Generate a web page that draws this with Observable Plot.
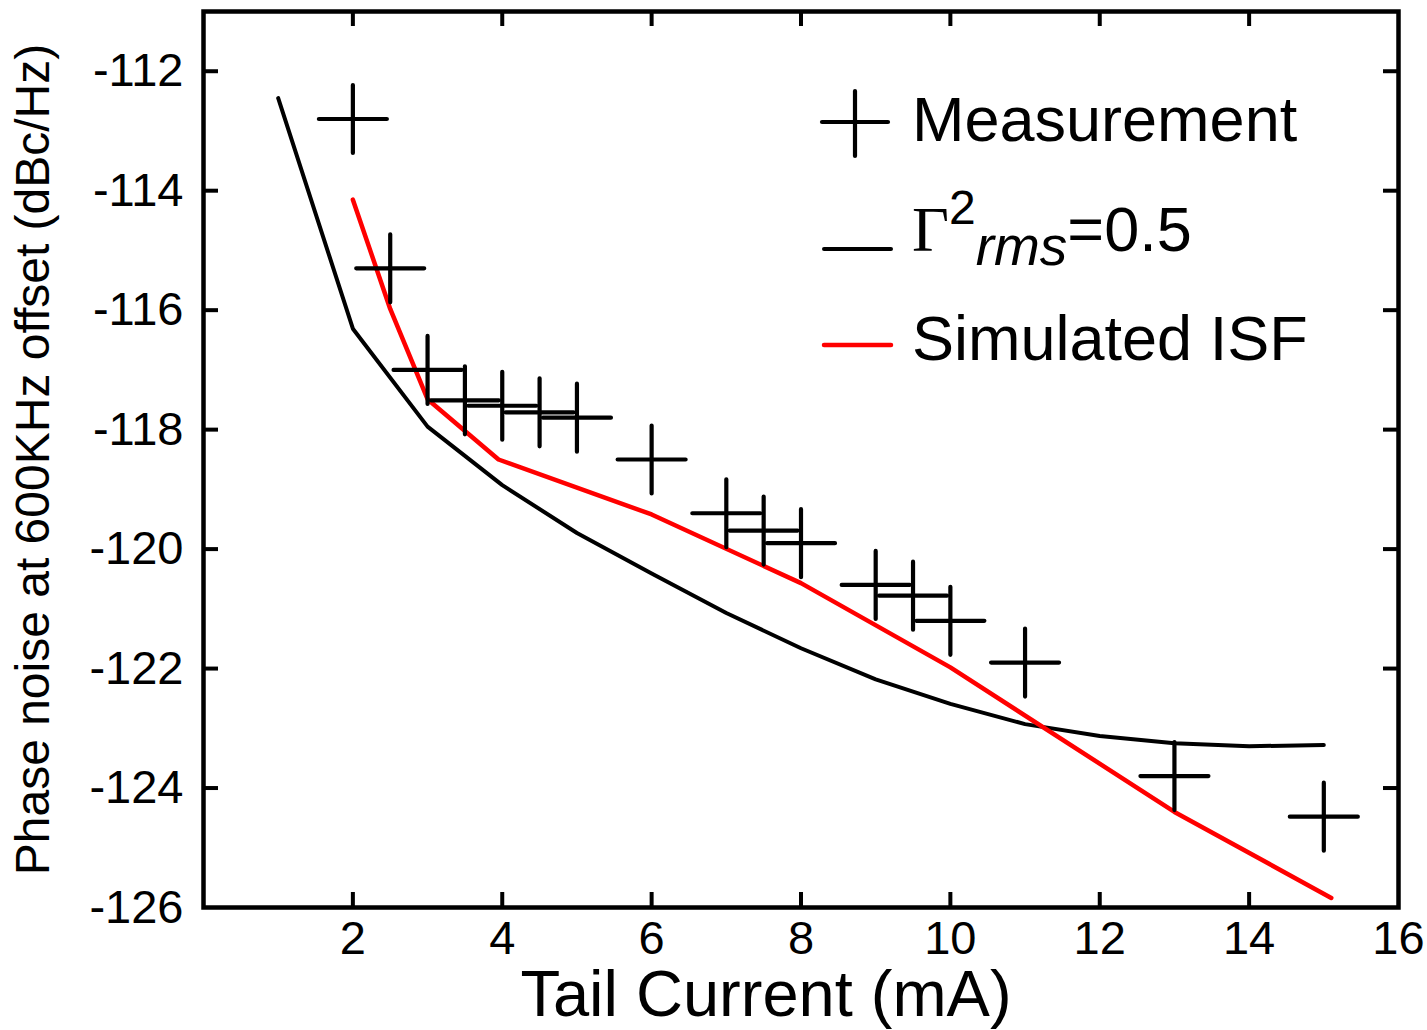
<!DOCTYPE html>
<html>
<head>
<meta charset="utf-8">
<script src="https://cdn.jsdelivr.net/npm/d3@7"></script>
<script src="https://cdn.jsdelivr.net/npm/@observablehq/plot@0.6"></script>
<style>
  html, body { margin: 0; padding: 0; background: #fff; }
  #wrap { position: relative; width: 1427px; height: 1030px; font-family: "Liberation Sans", Arial, sans-serif; }
  .leg { position: absolute; font-size: 63px; line-height: 63px; white-space: nowrap; color: #000; }
  #legsym { position: absolute; left: 0; top: 0; }
</style>
</head>
<body>
<div id="wrap"></div>
<script>
// Measurement (Tail current mA, phase noise dBc/Hz)
const measX = [2, 2.5, 3, 3.5, 4, 4.5, 5, 6, 7, 7.5, 8, 9, 9.5, 10, 11, 13, 15];
const measY = [-112.8, -115.3, -117.0, -117.51, -117.6, -117.71, -117.8, -118.5, -119.4, -119.69, -119.9, -120.6, -120.78, -121.2, -121.9, -123.8, -124.48];

// Gamma^2 rms = 0.5 model
const gammaX = [1, 2, 3, 4, 5, 6, 7, 8, 9, 10, 11, 12, 13, 14, 15];
const gammaY = [-112.45, -116.31, -117.95, -118.93, -119.73, -120.41, -121.07, -121.66, -122.18, -122.59, -122.93, -123.13, -123.25, -123.3, -123.28];

// Simulated ISF
const isfX = [2, 2.5, 3, 3.95, 6, 8, 10, 13, 15.1];
const isfY = [-114.15, -115.98, -117.49, -118.5, -119.42, -120.57, -121.98, -124.4, -125.84];

const xTickLabels = [2, 4, 6, 8, 10, 12, 14, 16];
const yTickLabels = [-112, -114, -116, -118, -120, -122, -124, -126];
const xTickMarks = [2, 4, 6, 8, 10, 12, 14];
const yTickMarks = [-112, -114, -116, -118, -120, -122, -124];

const xTitle = "Tail Current (mA)";
const yTitle = "Phase noise at 600KHz offset (dBc/Hz)";

const meas = measX.map((x, i) => ({x, y: measY[i]}));
const gamma = gammaX.map((x, i) => ({x, y: gammaY[i]}));
const isf = isfX.map((x, i) => ({x, y: isfY[i]}));

const W = 1427, H = 1030;
const mL = 203, mR = 29, mT = 11, mB = 123;
const pw = W - mL - mR, ph = H - mT - mB;
const tickLen = 15;

const plusSymbol = {
  draw(ctx, size) {
    const r = Math.sqrt(size / Math.PI);
    ctx.moveTo(-r, 0); ctx.lineTo(r, 0);
    ctx.moveTo(0, -r); ctx.lineTo(0, r);
  }
};

const font = "Liberation Sans, Arial, sans-serif";

const chart = Plot.plot({
  width: W, height: H,
  marginLeft: mL, marginRight: mR, marginTop: mT, marginBottom: mB,
  style: {fontFamily: font, background: "#fff", color: "#000"},
  x: {domain: [0, 16]},
  y: {domain: [-126, -111]},
  marks: [
    Plot.axisX({ticks: xTickLabels, tickSize: 0, tickPadding: 13, fontSize: 47, label: null, tickFormat: d => String(d)}),
    Plot.axisY({ticks: yTickLabels, tickSize: 0, tickPadding: 20, fontSize: 47, label: null, tickFormat: d => String(d)}),
    // inward ticks (bottom, top, left, right)
    Plot.tickX(xTickMarks, {x: d => d, insetTop: ph - tickLen, stroke: "#000", strokeWidth: 4}),
    Plot.tickX(xTickMarks, {x: d => d, insetBottom: ph - tickLen, stroke: "#000", strokeWidth: 4}),
    Plot.tickY(yTickMarks, {y: d => d, insetRight: pw - tickLen, stroke: "#000", strokeWidth: 4}),
    Plot.tickY(yTickMarks, {y: d => d, insetLeft: pw - tickLen, stroke: "#000", strokeWidth: 4}),
    Plot.line(gamma, {x: "x", y: "y", stroke: "#000", strokeWidth: 4, strokeLinecap: "round", strokeLinejoin: "round"}),
    Plot.line(isf, {x: "x", y: "y", stroke: "#ff0000", strokeWidth: 4.5, strokeLinejoin: "round"}),
    Plot.dot(meas, {x: "x", y: "y", symbol: plusSymbol, r: 34, fill: "none", stroke: "#000", strokeWidth: 4.2, strokeLinecap: "round"}),
    Plot.frame({stroke: "#000", strokeWidth: 4.5}),
    Plot.text([xTitle], {text: d => d, frameAnchor: "bottom", lineAnchor: "bottom", dy: 108, dx: -35, fontSize: 65, fill: "#000"}),
    Plot.text([yTitle], {text: d => d, frameAnchor: "left", textAnchor: "middle", lineAnchor: "middle", dx: -170, rotate: -90, fontSize: 48, fill: "#000"})
  ]
});

const wrap = document.getElementById("wrap");
wrap.appendChild(chart);

// Legend overlay
const ns = "http://www.w3.org/2000/svg";
const lsvg = document.createElementNS(ns, "svg");
lsvg.setAttribute("id", "legsym");
lsvg.setAttribute("width", W);
lsvg.setAttribute("height", H);
function seg(x1, y1, x2, y2, color, w) {
  const l = document.createElementNS(ns, "line");
  l.setAttribute("x1", x1); l.setAttribute("y1", y1);
  l.setAttribute("x2", x2); l.setAttribute("y2", y2);
  l.setAttribute("stroke", color); l.setAttribute("stroke-width", w);
  l.setAttribute("stroke-linecap", "round");
  lsvg.appendChild(l);
}
seg(822, 122, 888, 122, "#000", 4.2);
seg(855, 91, 855, 156, "#000", 4.2);
seg(824, 249, 891, 249, "#000", 4);
seg(824, 345, 891, 345, "#ff0000", 4.5);
wrap.appendChild(lsvg);

function legText(html, top) {
  const d = document.createElement("div");
  d.className = "leg";
  d.style.left = "912px";
  d.style.top = top + "px";
  d.innerHTML = html;
  wrap.appendChild(d);
}
legText("Measurement", 88);
legText('<span style="font-family:\'Liberation Serif\',\'Times New Roman\',serif;font-size:64px">&Gamma;</span><span style="font-size:48px;position:relative;top:-27px">2</span><span style="font-size:55px;font-style:italic;position:relative;top:14px">rms</span><span>=0.5</span>', 198);
legText("Simulated ISF", 307);
</script>
</body>
</html>
